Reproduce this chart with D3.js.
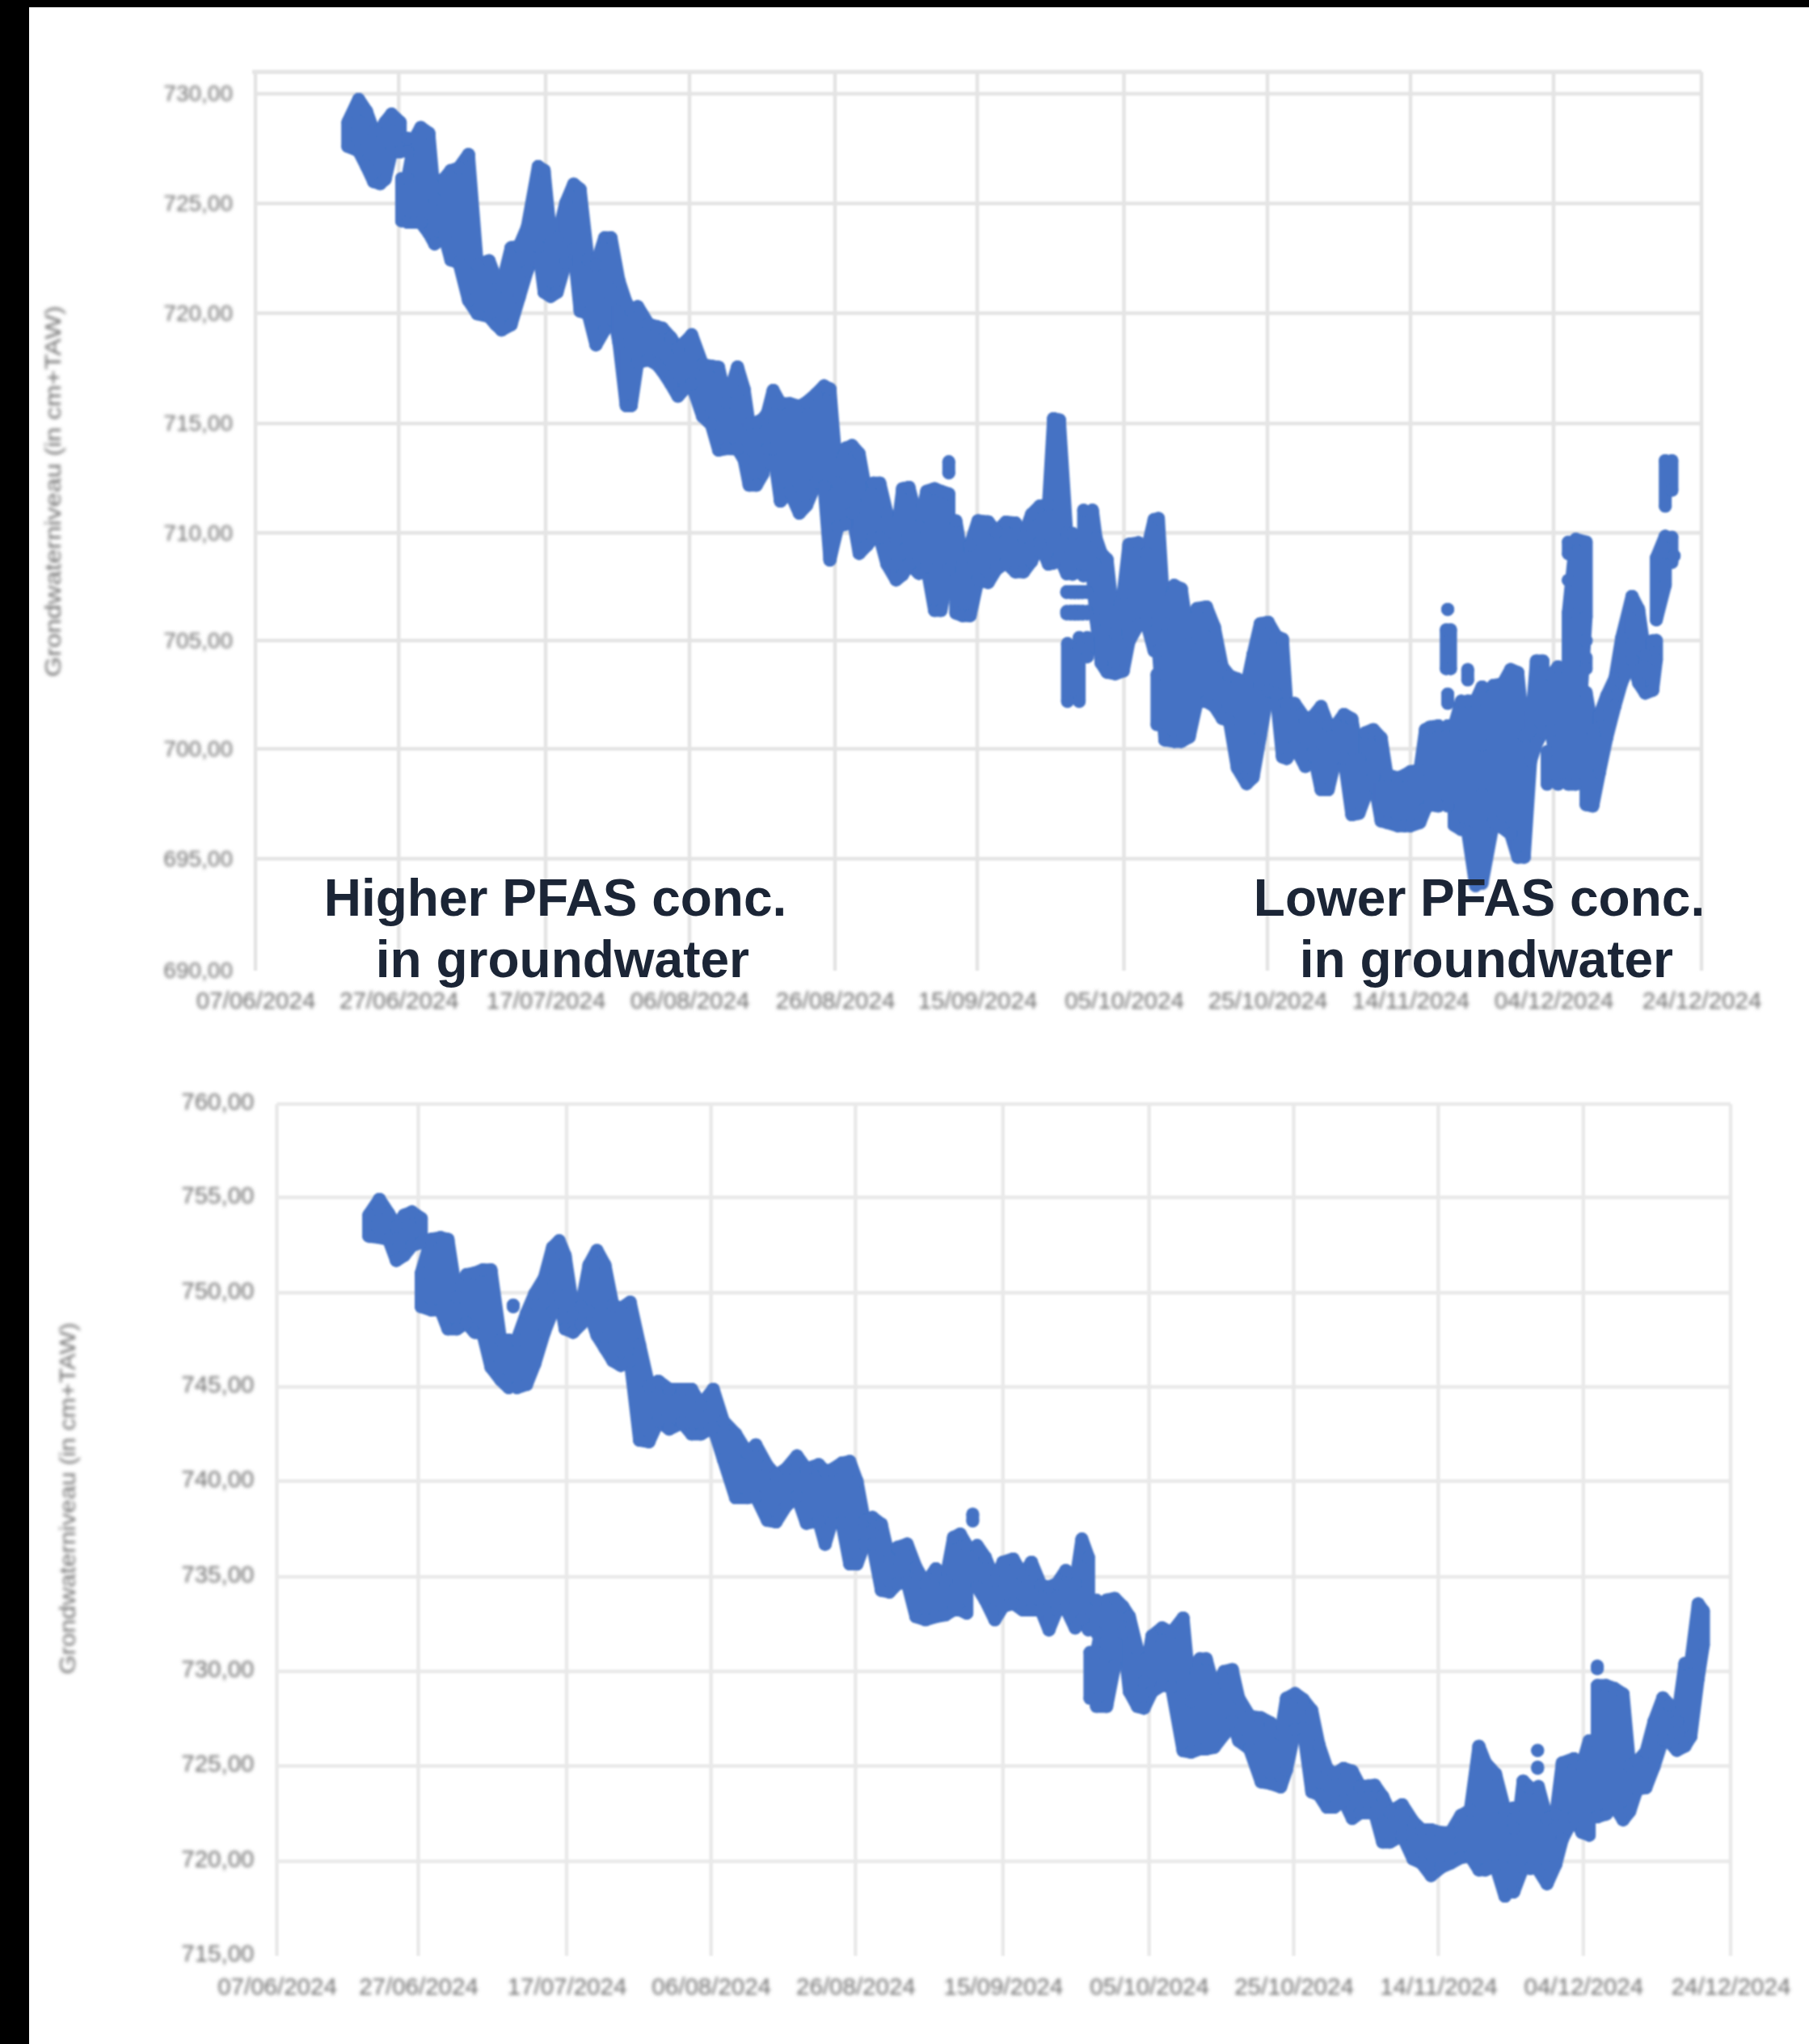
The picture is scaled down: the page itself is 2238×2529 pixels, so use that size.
<!DOCTYPE html>
<html>
<head>
<meta charset="utf-8">
<script src="https://cdn.jsdelivr.net/npm/d3@7"></script>
<style>html,body{margin:0;padding:0;background:#fff}svg{display:block}</style>
</head>
<body>
<script>
// ---- shared x axis (days after 07/06/2024)
const xTickDays = [0,20,40,60,80,100,120,140,160,180,200];
const xTickLabels = ["07/06/2024","27/06/2024","17/07/2024","06/08/2024","26/08/2024","15/09/2024","05/10/2024","25/10/2024","14/11/2024","04/12/2024","24/12/2024"];
const yTitle = "Grondwaterniveau (in cm+TAW)";
const topYTicks = [730,725,720,715,710,705,700,695,690];
const botYTicks = [760,755,750,745,740,735,730,725,720,715];

// ---- upper chart: readings of the dense point cloud, per day: highest and lowest value
const topDay = [
12.9,14.4,15.5,16.5,17.4,18.1,19,20.2,20.4,21.2,
21.2,22.2,23,24.1,24.9,26.2,27.1,28.2,29.5,30.7,
32.3,33.2,34,35.3,36.4,37.5,39,39.8,40.7,41.6,
42.8,43.9,44.8,45.9,47,48.2,49.1,50.2,51.2,51.9,
52.8,54.3,55.4,56.2,57.4,58.4,59.4,60.3,61.8,63,
64,65.1,66.6,67.5,68.2,69.2,70.1,70.7,71.5,72.5,
73.8,75.1,76.1,77.4,78.5,79.3,80.4,81.5,82.4,83.4,
84.5,85.4,86.3,87.3,88.6,89.5,90.4,91.8,92.9,94,
94.9,96,96,97,97.9,99,100.1,101.5,102.6,103.9,
105.2,106.3,107.4,108.5,109.7,110.4,111.2,112.2,112.2,112.2,
112.3,113,113.8,113.8,113.9,114.5,115,115,115,115.7,
116.2,116.9,117.7,118.8,119.9,120.7,122,123.1,124.2,124.6,
124.8,125.7,127,128,129.1,130.2,131.5,132.6,133.7,134.7,
135.8,137.1,138,139,140.1,141.2,142.1,142.7,143.8,145.3,
146.4,147.5,148.5,149.6,150.7,151.8,152.8,153.7,154.8,155.9,
156.7,158.2,159.2,160,161.3,162.1,162.7,163.9,165,165.2,
165.2,165.2,165.6,166.1,167.1,168,168,169.1,170,170,
171.6,172.9,174,175,175.9,176.8,177.6,178.5,179.1,179.7,
180.6,182,182,182,183,184.4,184.4,184.4,184.4,185.3,
186.2,187.2,188.3,189.2,190.6,191.5,192.4,193.4,193.9,193.9,
195.1,195.1,196,196,196.3,
112.7,113.3,114.4,112.7,113.3,114.4];
const topHigh = [
728.7,729.74,729.2,728.3,728.3,728.7,729.07,728.7,726.13,727.97,
726.13,727.97,728.46,728.2,725.2,726.13,726.5,726.62,727.23,722.2,
722.39,721.6,721.23,722.98,723.05,723.92,726.68,726.5,723.55,723.43,
725.02,725.88,725.64,722.45,722.2,723.43,723.43,721.47,720.49,720.12,
720.3,719.5,719.4,719.33,718.9,718.41,718.7,719.02,717.67,717.6,
717.55,715.96,717.56,716.57,714.98,715.04,715.2,715.47,716.5,715.9,
715.9,715.77,715.96,716.33,716.7,716.57,712.27,713.87,713.99,713.62,
711.65,712.27,712.27,710.92,709.69,712.02,712.08,710.3,711.9,712.02,
711.9,711.78,713.25,710.55,708.83,709.44,710.55,710.5,710.05,710.49,
710.45,709.81,710.85,711.22,711.29,715.22,715.16,710,707.27,706.35,
704.86,709.97,707.27,706.35,705.14,711.04,707.27,706.35,705.14,711.04,
709.76,709.05,708.77,705.36,707.2,709.47,709.54,709.05,710.61,703.44,
710.66,705.78,707.56,707.4,704.86,706.49,706.56,705.64,703.79,703.37,
703.23,702.94,704.36,705.78,705.85,705.21,705.07,702.09,702.09,701.38,
701.5,701.95,701.09,701.09,701.59,701.38,699.53,700.74,700.89,700.5,
698.82,698.68,698.8,698.96,699.03,700.89,701,701.06,705.5,706.45,
702.53,701.06,705.5,701.06,702.2,703.66,702.2,702.2,702.86,697.94,
702.93,703,703.66,703.52,700.6,700.86,704.06,704.06,699.87,703.39,
703.79,709.57,707.8,706.32,709.7,709.57,705,704.2,702.6,700.86,
701.53,702.46,703.26,705.12,707.05,706.45,704.32,704.99,705,708.84,
709.84,713.3,709.8,713.3,708.94,
707.27,707.27,707.27,706.35,706.35,706.35];
const topLow = [
727.6,727.4,726.7,726,725.9,726.1,727.35,727.35,724.2,727.35,
724.14,724.14,724.14,723.65,723.16,723.53,722.43,722.3,720.59,719.98,
719.85,719.5,719.24,719.48,720.71,721.94,723.04,720.96,720.77,720.96,
722.3,722.92,720.1,719.98,718.57,719.24,720.59,718.63,715.81,715.81,
717.77,717.89,717.7,717.4,716.8,716.24,716.6,716.79,715.32,714.95,
713.79,713.85,713.84,713.35,712.18,712.18,712.7,713.84,713.84,711.45,
711.88,710.9,711.26,712.3,712.12,708.74,710.28,710.4,710.9,709.05,
709.42,709.78,709.78,708.55,707.82,708.06,708.55,708.12,708.43,706.4,
706.4,708.31,712.74,706.28,706.16,706.16,707.82,707.7,708.31,708.62,
708.19,708.19,708.68,709.54,708.55,708.6,708.92,708.1,707.23,706.24,
702.19,708.08,707.23,706.24,702.19,708,707.23,706.24,704.25,708.08,
705.95,703.96,703.54,703.47,703.6,704.96,705.74,705.88,704.53,701.12,
704.53,700.41,700.34,700.34,700.55,702.19,702.19,701.97,701.41,701.27,
699.13,698.42,698.7,700.55,702.68,702.54,699.63,699.56,700.13,699.2,
699.84,698.14,698.14,699.63,699.56,697,697.07,697.85,698.71,696.72,
696.65,696.5,696.5,696.5,696.65,697.29,697.46,697.4,703.7,706.44,
702.1,697.4,703.7,696.53,696.33,703.18,696.2,693.8,700.19,693.9,
696.66,696.4,696.13,695.07,695.07,699.45,700.25,700.78,698.39,700.85,
698.39,709.03,707.8,698.39,698.39,706.1,705,703.7,697.46,697.4,
698.92,700.52,701.98,703.05,704.11,703.05,702.58,702.71,704.11,705.97,
707.57,711.22,708.63,711.95,708.94,
707.23,707.23,707.23,706.24,706.24,706.24];

// ---- lower chart
const botDay = [
13,14.5,15.8,16.9,18,19.1,20.4,20.4,21.7,23,
24,25.2,26.5,27.6,28.7,29.8,31.1,32.2,32.8,33.3,
34.6,35.7,37,38.1,39,39.8,40.9,42,43.1,44.2,
45.3,46.4,47.5,48.8,50.1,51.4,52.7,54.2,56,57.3,
58.6,60.3,61.7,63.4,65,66.2,67.8,69,70.4,71.9,
73.2,74.9,75.8,76.7,78.1,79.2,80.2,81.2,82.3,83.5,
84.6,85.7,87,88.2,89.5,90.9,92.2,93.3,94.2,95.1,
95.9,96.5,97.6,98.9,100,101.4,102.7,103.9,105.2,106.3,
107.4,108.6,109.9,110.8,111.7,111.9,112.8,112.8,114.2,115.3,
116.4,117.3,118.4,119.3,120.4,121.8,123.1,124.7,125.8,127,
127.9,129,130.4,131.5,132.4,133.9,135.5,136.8,138.2,139,
140.2,141.3,142.5,143.5,144.6,145.6,146.9,148.1,149.2,150.3,
151.2,152.3,153.3,155,156.5,157.7,159,160.4,161.7,163.1,
164.4,165.6,166.5,167.9,169.2,170.4,170.4,171.7,172.7,173.7,
173.7,173.8,175,176.2,177.1,178.7,179.8,180.8,181.9,181.9,
183.1,184.2,185.4,186.3,187.3,188.5,189.6,190.8,191.7,192.7,
193.8,194.6,195.6,196.3];
const botHigh = [
754.07,754.9,754.16,753.48,754.07,754.24,753.9,751.03,752.8,752.89,
752.8,749.77,750.95,751.03,751.2,751.2,747.49,747.49,749.35,747.49,
748.92,749.94,750.78,752.38,752.72,751.95,749.18,749.26,751.46,752.22,
751.46,749.35,749.17,749.5,747.24,745.04,745.3,744.87,744.87,744.87,
744.03,744.87,743.18,742.5,741.5,741.92,740.8,740.3,740.65,741.33,
740.65,740.87,740.52,740.6,740.95,741.04,740,737.92,738.1,737.75,
735.93,736.54,736.71,735.5,734.64,735.42,734.8,737.06,737.23,736.63,
738.27,736.63,736.02,734.8,735.76,735.93,735.07,735.76,734.55,734.46,
734.64,735.33,734.64,736.97,736.02,731,733.77,731,733.77,733.86,
733.43,732.9,731.18,729.45,731.87,732.3,732.04,732.82,728.41,730.66,
730.66,729.1,730,730.1,728.58,727.63,727.54,727.28,726.68,728.58,
728.82,728.52,727.94,726.11,724.87,724.58,724.87,724.72,723.92,723.95,
723.99,723.4,722.6,722.97,722.09,721.65,721.65,721.5,721.5,722.4,
722.68,726.04,725.16,724.58,722.68,722.8,720.04,724.21,723.84,725.82,
724.94,723.92,722.24,722.46,725.16,725.38,725.01,726.33,730.28,729.25,
729.25,729.1,728.8,725.01,725.23,725.74,727.35,728.6,728.23,727.35,
730.42,730.5,733.57,733.2];
const botLow = [
752.97,752.9,752.8,751.7,751.96,752.47,752.64,749.26,749.09,749.09,
748.08,748.08,748.4,747.9,747.83,746.05,745.38,744.96,749.26,744.96,
745.13,746.22,747.9,749,749.85,748.08,747.9,748.33,749,747.74,
747.07,746.39,746.14,746.39,742.17,742.09,743.19,742.76,743.1,742.5,
742.5,742.85,741.16,739.13,739.13,739.2,737.95,737.87,738.7,739.2,
737.8,737.92,736.71,737.84,737.84,735.67,735.67,736.71,736.71,734.29,
734.2,734.64,734.72,732.9,732.73,732.9,732.99,733.25,733.25,733.08,
737.92,734.46,733.77,732.73,733.43,733.6,733.25,733.25,733.25,732.2,
733.25,733.34,732.3,732.73,732.2,728.58,732.04,728.15,728.15,730.3,
732.04,728.93,728.15,728.06,728.93,729.27,729.19,725.81,725.73,725.9,
725.9,725.99,726.68,727.37,726.33,725.9,724.17,724.08,723.9,724.78,
726.93,727,723.64,723.49,722.84,722.84,723.2,722.25,722.54,722.54,
722.54,721.01,721.01,721.37,720.13,719.91,719.25,719.69,719.91,720.2,
720.28,719.55,719.55,719.77,718.16,721.74,718.38,719.69,719.62,725.82,
724.88,719.55,718.82,719.84,721.15,722.33,721.52,721.37,730.15,722.33,
722.48,722.91,722.18,722.62,723.79,723.86,724.96,726.42,726.27,725.83,
726.05,726.56,729.63,731.39];

const notes = [
  {lines:["Higher PFAS conc."," in groundwater"], cx:687},
  {lines:["Lower PFAS conc."," in groundwater"], cx:1830}
];

const W = 2238, H = 2529;
const svg = d3.select("body").append("svg").attr("width",W).attr("height",H)
  .style("font-family","'Liberation Sans',Arial,sans-serif");
const defs = svg.append("defs");
[["bLine",0.8],["bDot",1.3]].forEach(([id,s])=>{
  defs.append("filter").attr("id",id).attr("filterUnits","userSpaceOnUse")
    .attr("x",0).attr("y",0).attr("width",W).attr("height",H)
    .append("feGaussianBlur").attr("stdDeviation",s);
});
defs.append("filter").attr("id","bText").attr("x","-20%").attr("y","-60%").attr("width","140%").attr("height","220%")
  .append("feGaussianBlur").attr("stdDeviation",2.1);
svg.append("rect").attr("width",W).attr("height",H).attr("fill","#fff");

function panel(cfg){
  const x = d3.scaleLinear().domain(xTickDays).range(cfg.xr);
  const y = d3.scaleLinear().domain(cfg.yd).range(cfg.yr);
  const g = svg.append("g");
  const bottom = cfg.yr[cfg.yr.length-1], top = cfg.yr[0];

  const gx = g.append("g").attr("transform",`translate(0,${bottom})`)
    .call(d3.axisBottom(x).tickValues(xTickDays).tickSize(-(bottom-top)).tickPadding(cfg.xPad)
      .tickFormat((d,i)=>xTickLabels[i]));
  const gy = g.append("g").attr("transform",`translate(${cfg.xr[0]},0)`)
    .call(d3.axisLeft(y).tickValues(cfg.ticks).tickSize(-(cfg.xr[cfg.xr.length-1]-cfg.xr[0])).tickPadding(cfg.yPad)
      .tickFormat(v=>d3.format(".2f")(v).replace(".",",")));
  g.selectAll(".domain").remove();
  g.selectAll(".tick text").attr("fill","#6e6e6e").style("filter","url(#bText)");
  gx.selectAll(".tick text").attr("font-size",29.5);
  gy.selectAll(".tick text").attr("font-size",cfg.yFont).attr("dy",cfg.yDy);
  // grid lines live in one softened layer; the lowest value has no grid line of its own
  const gridLayer = g.insert("g",":first-child").style("filter","url(#bLine)");
  xTickDays.forEach(d=>gridLayer.append("line").attr("x1",x(d)).attr("x2",x(d)).attr("y1",top).attr("y2",bottom)
    .attr("stroke",cfg.grid).attr("stroke-width",4.5));
  cfg.ticks.slice(0,-1).forEach(v=>gridLayer.append("line").attr("x1",cfg.xr[0]).attr("x2",cfg.xr[cfg.xr.length-1]).attr("y1",y(v)).attr("y2",y(v))
    .attr("stroke",cfg.grid).attr("stroke-width",4.5));
  g.selectAll(".tick line").remove();
  if(cfg.topEdge!==undefined){
    gridLayer.append("line").attr("x1",cfg.xr[0]-4).attr("x2",cfg.xr[cfg.xr.length-1])
      .attr("y1",y(cfg.topEdge)).attr("y2",y(cfg.topEdge))
      .attr("stroke",cfg.grid).attr("stroke-width",5);
  }

  g.append("text").attr("transform",`translate(${cfg.titleX},${cfg.titleY}) rotate(-90)`)
    .attr("text-anchor","middle").attr("fill","#6e6e6e").attr("font-size",28)
    .attr("textLength",cfg.titleLen).attr("lengthAdjust","spacingAndGlyphs")
    .style("filter","url(#bText)").text(yTitle);

  const samples = d3.range(Math.min(cfg.days.length,cfg.hi.length,cfg.lo.length)).map(i=>({d:cfg.days[i],h:cfg.hi[i],l:cfg.lo[i]}));
  const marks = g.append("g").style("filter","url(#bDot)");
  // neighbouring readings whose ranges overlap belong to the same dense cloud
  const pairs = d3.pairs(samples).filter(([a,b])=>a.d<b.d && b.d-a.d<2.2 && a.h>=b.l && b.h>=a.l);
  const band = d3.area().x(p=>x(p.d)).y0(p=>y(p.l)).y1(p=>y(p.h));
  marks.selectAll("path").data(pairs).join("path")
    .attr("d",band)
    .attr("fill","#4472C4").attr("stroke","#4472C4").attr("stroke-width",16).attr("stroke-linejoin","round");
  marks.selectAll("line").data(samples).join("line")
    .attr("x1",s=>x(s.d)).attr("x2",s=>x(s.d)).attr("y1",s=>y(s.h)).attr("y2",s=>y(s.l))
    .attr("stroke","#4472C4").attr("stroke-width",16).attr("stroke-linecap","round");
  marks.selectAll("circle").data(samples.flatMap(s=>[[s.d,s.h],[s.d,s.l]])).join("circle")
    .attr("cx",p=>x(p[0])).attr("cy",p=>y(p[1])).attr("r",8).attr("fill","#4472C4");
}

panel({days:topDay,hi:topHigh,lo:topLow,
  xr:[316,493.3,675,853,1033,1209,1390.5,1568,1745,1922,2105],
  yd:[731,730,725,720,715,710,705,700,695,690],
  yr:[89,116,251.7,387.6,524,659.3,792.6,926.5,1062.5,1201],
  ticks:topYTicks,topEdge:731,grid:"#e4e4e4",xPad:26,yPad:28,yDy:"0.32em",yFont:28,
  titleX:75,titleY:608,titleLen:459});

panel({days:botDay,hi:botHigh,lo:botLow,
  xr:[342.5,517.5,701,879.7,1058.4,1240.8,1421.6,1600.5,1779.4,1958.8,2141],
  yd:[760,755,750,745,740,735,730,725,720,715],
  yr:[1366,1481.6,1599.5,1716,1832.5,1951,2068,2185,2303,2420],
  ticks:botYTicks,grid:"#e9e9e9",xPad:27,yPad:28,yDy:"0.22em",yFont:29.5,
  titleX:93,titleY:1854,titleLen:435});

// annotations
notes.forEach(n=>{
  n.lines.forEach((t,i)=>{
    svg.append("text").attr("x",n.cx).attr("y",1133+i*76)
      .attr("text-anchor","middle").attr("font-size",64).attr("font-weight","bold")
      .attr("fill","#1b2536").attr("xml:space","preserve").style("white-space","pre").text(t);
  });
});

// black frame of the source picture
svg.append("rect").attr("x",0).attr("y",0).attr("width",W).attr("height",9).attr("fill","#000");
svg.append("rect").attr("x",0).attr("y",0).attr("width",36).attr("height",H).attr("fill","#000");
</script>
</body>
</html>
